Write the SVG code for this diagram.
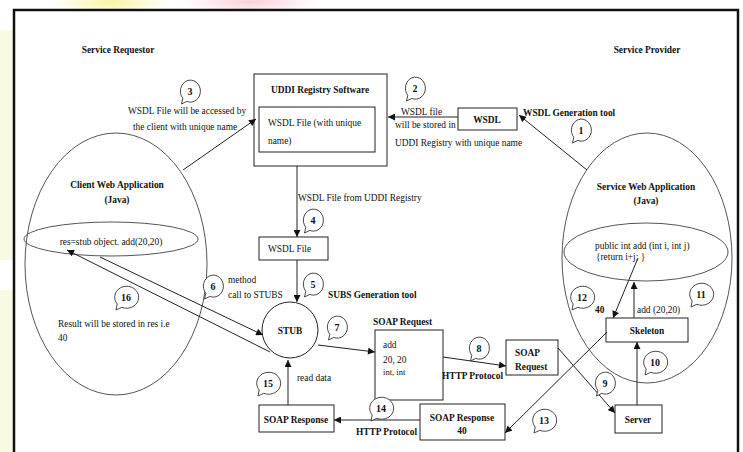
<svg xmlns="http://www.w3.org/2000/svg" width="743" height="452" viewBox="0 0 743 452">
<defs>
<style>
.t{font-family:"Liberation Serif","Times New Roman",serif;font-size:9.4px;fill:#111}
.b{font-weight:bold}
.m{text-anchor:middle}
.box{fill:#fff;stroke:#222;stroke-width:1}
.ell{fill:none;stroke:#555;stroke-width:1}
.ln{stroke:#222;stroke-width:1;fill:none;marker-end:url(#arr)}
.bub{fill:#fff;stroke:#333;stroke-width:0.9}
.n{font-family:"Liberation Serif","Times New Roman",serif;font-size:10px;font-weight:bold;text-anchor:middle;fill:#111}
</style>
<marker id="arr" viewBox="0 0 10 10" refX="10" refY="5" markerWidth="8" markerHeight="7" orient="auto" markerUnits="userSpaceOnUse">
<path d="M0,0 L10,5 L0,10 z" fill="#111"/>
</marker>
<path id="bub1" class="bub" d="M-7.2,7.3 A10,11 0 1 1 -3.2,10.4 L-8.5,13 Z"/>
<path id="bub2" class="bub" d="M-8.8,7 A12,11 0 1 1 -4.2,10.3 L-10,13 Z"/>
<radialGradient id="gy" cx="0.5" cy="0.5" r="0.5"><stop offset="0" stop-color="#fbf3a0"/><stop offset="1" stop-color="#fbf3a0" stop-opacity="0"/></radialGradient>
<radialGradient id="gp" cx="0.5" cy="0.5" r="0.5"><stop offset="0" stop-color="#fbd0d8"/><stop offset="1" stop-color="#fbd0d8" stop-opacity="0"/></radialGradient>
</defs>
<rect x="0" y="0" width="743" height="452" fill="#fff"/>
<rect x="0" y="30" width="14" height="230" fill="#f8fbe2"/>
<rect x="0" y="290" width="14" height="162" fill="#f8fbe2"/>
<ellipse cx="110" cy="2" rx="60" ry="12" fill="url(#gy)"/>
<ellipse cx="250" cy="2" rx="70" ry="12" fill="url(#gp)"/>
<rect id="frame" x="14" y="10" width="724" height="452" fill="#fff" stroke="#111" stroke-width="2.5"/>

<text class="t b m" x="118" y="53">Service Requestor</text>
<text class="t b m" x="647" y="53">Service Provider</text>

<g id="client-app">
<ellipse class="ell" cx="116" cy="264" rx="91" ry="131"/>
<text class="t b m" x="117" y="188">Client Web Application</text>
<text class="t b m" x="117" y="203">(Java)</text>
<ellipse class="ell" cx="111" cy="239" rx="87" ry="17"/>
<text class="t m" x="111" y="245">res=stub object. add(20,20)</text>
<text class="t" x="58" y="327">Result will be stored in res i.e</text>
<text class="t" x="58" y="341">40</text>
</g>

<g id="service-app">
<ellipse class="ell" cx="647" cy="258" rx="85" ry="125"/>
<text class="t b m" x="646" y="190">Service Web Application</text>
<text class="t b m" x="646" y="204">(Java)</text>
<ellipse class="ell" cx="646" cy="252" rx="82" ry="29"/>
<text class="t" x="595" y="249">public int add (int i, int j)</text>
<text class="t" x="596" y="260">{return i+j; }</text>
</g>

<g id="uddi">
<rect class="box" x="254" y="74" width="133" height="92"/>
<text class="t b m" x="320" y="93">UDDI Registry Software</text>
<rect class="box" x="259" y="107" width="116" height="45"/>
<text class="t" x="268" y="126">WSDL File (with unique</text>
<text class="t" x="268" y="144">name)</text>
</g>

<g id="wsdl">
<rect class="box" x="458" y="108" width="59" height="22"/>
<text class="t b m" x="487" y="123">WSDL</text>
</g>

<g id="wsdl-file">
<rect class="box" x="259" y="237" width="69" height="23"/>
<text class="t" x="268" y="252">WSDL File</text>
</g>

<g id="stub">
<circle class="box" cx="290" cy="330" r="28"/>
<text class="t b m" x="290" y="334">STUB</text>
</g>

<g id="soap-request-data">
<rect class="box" x="375" y="330" width="68" height="70"/>
<text class="t" x="383" y="348">add</text>
<text class="t" x="383" y="363">20, 20</text>
<text class="t" x="383" y="375" style="font-size:8.6px">int, int</text>
</g>

<g id="soap-request">
<rect class="box" x="506" y="340" width="52" height="35"/>
<text class="t b" x="515" y="356">SOAP</text>
<text class="t b" x="515" y="370">Request</text>
</g>

<g id="soap-response-client">
<rect class="box" x="259" y="405" width="75" height="27"/>
<text class="t b m" x="296" y="423">SOAP Response</text>
</g>

<g id="soap-response-40">
<rect class="box" x="420" y="404" width="85" height="36"/>
<text class="t b m" x="462" y="421">SOAP Response</text>
<text class="t b m" x="462" y="434">40</text>
</g>

<g id="skeleton">
<rect class="box" x="606" y="318" width="82" height="24"/>
<text class="t b m" x="647" y="334">Skeleton</text>
</g>

<g id="server">
<rect class="box" x="615" y="405" width="47" height="28"/>
<text class="t b m" x="638" y="423">Server</text>
</g>

<g id="connectors">
<line class="ln" x1="587" y1="170" x2="519" y2="115"/>
<line class="ln" x1="458" y1="117" x2="388" y2="117"/>
<line class="ln" x1="183" y1="170" x2="256" y2="119"/>
<line class="ln" x1="297" y1="166" x2="297" y2="237"/>
<line class="ln" x1="297" y1="260" x2="297" y2="302"/>
<line class="ln" x1="100" y1="257" x2="263" y2="335"/>
<line class="ln" x1="270" y1="352" x2="67" y2="250"/>
<line class="ln" x1="318" y1="345" x2="375" y2="352"/>
<line class="ln" x1="443" y1="357" x2="506" y2="366"/>
<line class="ln" x1="558" y1="348" x2="615" y2="413"/>
<line class="ln" x1="637" y1="405" x2="637" y2="342"/>
<line class="ln" x1="634" y1="318" x2="634" y2="282"/>
<line class="ln" x1="638" y1="258" x2="613" y2="318"/>
<line class="ln" x1="607" y1="332" x2="505" y2="433"/>
<line class="ln" x1="420" y1="420" x2="334" y2="420"/>
<line class="ln" x1="288" y1="405" x2="288" y2="360"/>
</g>

<g id="labels">
<text class="t" x="128" y="114">WSDL File will be accessed by</text>
<text class="t" x="133" y="130">the client with unique name</text>
<text class="t" x="401" y="115">WSDL file</text>
<text class="t" x="395" y="128">will be stored in</text>
<text class="t" x="395" y="146">UDDI Registry with unique name</text>
<text class="t b" x="523" y="116">WSDL Generation tool</text>
<text class="t" x="298" y="201">WSDL File from UDDI Registry</text>
<text class="t" x="228" y="283">method</text>
<text class="t" x="228" y="298">call to STUBS</text>
<text class="t b" x="328" y="298">SUBS Generation tool</text>
<text class="t b" x="373" y="325">SOAP Request</text>
<text class="t b" x="442" y="379">HTTP Protocol</text>
<text class="t" x="297" y="381">read data</text>
<text class="t b" x="356" y="435">HTTP Protocol</text>
<text class="t" x="637" y="313">add (20,20)</text>
<text class="t b" x="595" y="313">40</text>
</g>

<g id="step-1" transform="translate(581,130)"><use href="#bub1"/><text class="n" x="0" y="3.5">1</text></g>
<g id="step-2" transform="translate(415,88)"><use href="#bub1"/><text class="n" x="0" y="3.5">2</text></g>
<g id="step-3" transform="translate(190,91)"><use href="#bub1"/><text class="n" x="0" y="3.5">3</text></g>
<g id="step-4" transform="translate(313,220)"><use href="#bub1"/><text class="n" x="0" y="3.5">4</text></g>
<g id="step-5" transform="translate(313,284)"><use href="#bub1"/><text class="n" x="0" y="3.5">5</text></g>
<g id="step-6" transform="translate(213,286)"><use href="#bub1"/><text class="n" x="0" y="3.5">6</text></g>
<g id="step-7" transform="translate(337,327)"><use href="#bub1"/><text class="n" x="0" y="3.5">7</text></g>
<g id="step-8" transform="translate(479,348)"><use href="#bub1"/><text class="n" x="0" y="3.5">8</text></g>
<g id="step-9" transform="translate(605,383)"><use href="#bub1"/><text class="n" x="0" y="3.5">9</text></g>
<g id="step-10" transform="translate(655,362)"><use href="#bub2"/><text class="n" x="0" y="3.5">10</text></g>
<g id="step-11" transform="translate(701,294)"><use href="#bub2"/><text class="n" x="0" y="3.5">11</text></g>
<g id="step-12" transform="translate(582,297)"><use href="#bub2"/><text class="n" x="0" y="3.5">12</text></g>
<g id="step-13" transform="translate(544,420)"><use href="#bub2"/><text class="n" x="0" y="3.5">13</text></g>
<g id="step-14" transform="translate(381,408)"><use href="#bub2"/><text class="n" x="0" y="3.5">14</text></g>
<g id="step-15" transform="translate(268,383)"><use href="#bub2"/><text class="n" x="0" y="3.5">15</text></g>
<g id="step-16" transform="translate(126,297)"><use href="#bub2"/><text class="n" x="0" y="3.5">16</text></g>
</svg>
